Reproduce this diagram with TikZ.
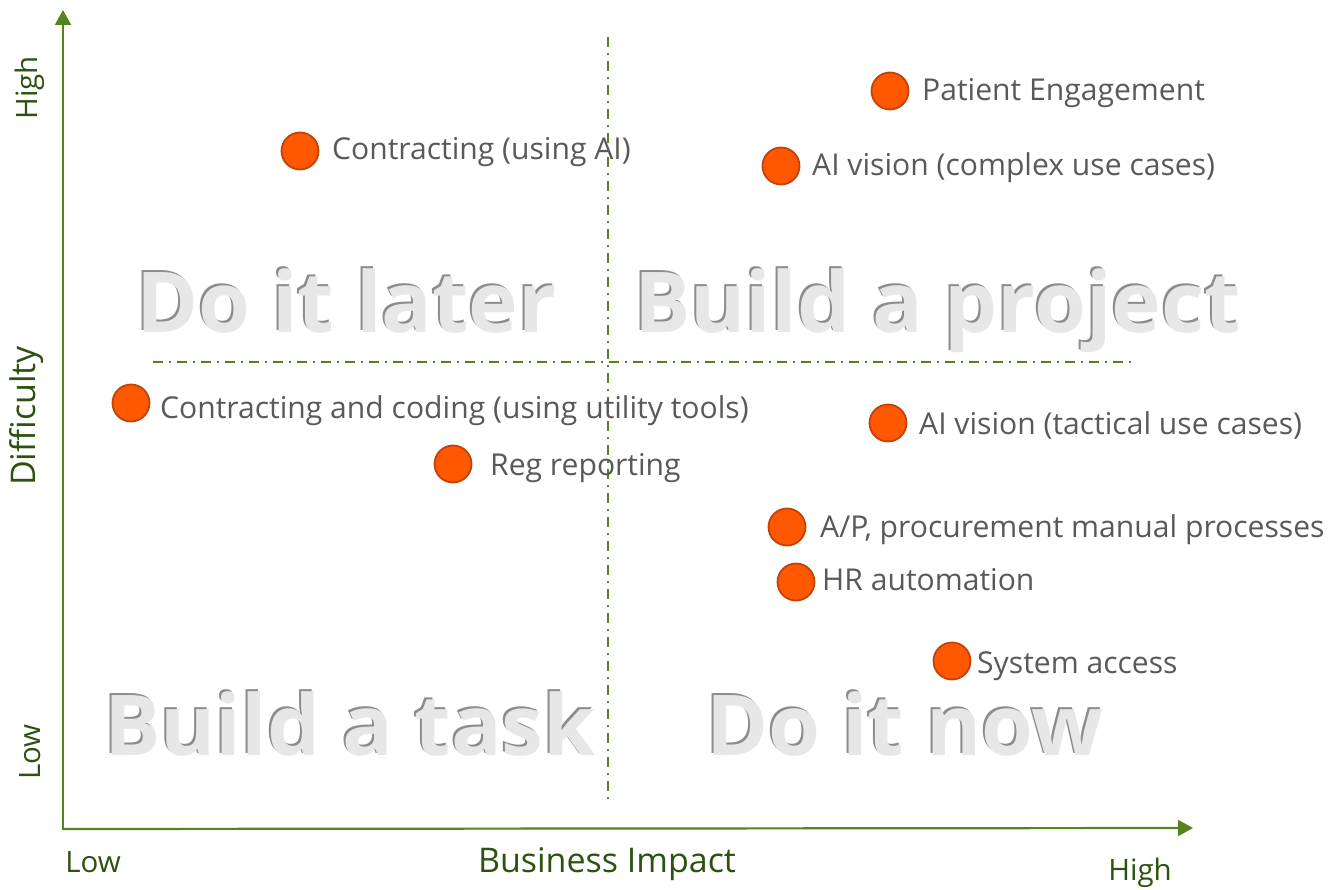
\documentclass[tikz,border=0pt]{standalone}
\usepackage{fontspec}
\setmainfont{Open Sans}
\usetikzlibrary{arrows.meta}
\definecolor{axisgreen}{RGB}{84,132,30}
\definecolor{axistext}{RGB}{45,82,16}
\definecolor{labelgray}{RGB}{89,89,89}
\definecolor{dotfill}{RGB}{255,88,0}
\definecolor{dotedge}{RGB}{196,66,10}
\definecolor{quadfill}{RGB}{231,231,231}
\definecolor{quadshade}{RGB}{140,140,140}
\begin{document}
\begin{tikzpicture}[x=1pt,y=-1pt,
  axisline/.style={draw=axisgreen, line width=2.2pt, -{Triangle[length=15pt,width=16pt]}},
  divider/.style={draw=axisgreen, line width=2pt, dash pattern=on 10pt off 6pt on 2pt off 6pt},
  axislabel/.style={text=axistext, inner sep=0pt, font=\fontsize{34}{40}\selectfont},
  endlabel/.style={text=axistext, inner sep=0pt, font=\fontsize{29.5}{35}\selectfont},
  dot/.style={circle, draw=dotedge, fill=dotfill, line width=1.8pt, minimum size=37pt, inner sep=0pt},
  lbl/.style={anchor=base west, inner sep=0pt, text=labelgray, font=\fontsize{30.1}{36}\selectfont},
  quadtext/.style={anchor=base west, inner sep=0pt, text=quadfill, font=\bfseries\fontsize{84}{100}\selectfont},
  quadshadow/.style={quadtext, text=quadshade}]
\useasboundingbox (0,0) rectangle (1333,890);

% quadrant dividers
\coordinate (vtop) at (608,37);
\coordinate (vbot) at (608,803);
\coordinate (hleft) at (153,362);
\coordinate (hright) at (1135,362);
\draw[divider] (vtop) -- (vbot);
\draw[divider] (hleft) -- (hright);

% quadrant titles: a dark copy offset up-left gives the embossed edge
\node[quadshadow] (qls) at (134,331) {Do it later};
\node[quadtext]   (ql)  at (136,333) {Do it later};
\node[quadshadow] (qps) at (632,331) {Build a project};
\node[quadtext]   (qp)  at (634,333) {Build a project};
\node[quadshadow] (qts) at (102,753) {Build a task};
\node[quadtext]   (qt)  at (104,755) {Build a task};
\node[quadshadow] (qns) at (704,753) {Do it now};
\node[quadtext]   (qn)  at (706,755) {Do it now};

% axes
\coordinate (origin) at (63,829);
\coordinate (ytip) at (63,10);
\coordinate (xtip) at (1193,828);
\draw[axisline] ([yshift=1pt]origin) -- (ytip);
\draw[axisline] ([xshift=-1pt]origin) -- (xtip);

% axis labels
\node[endlabel, rotate=90] (yhigh) at (30,88) {High};
\node[axislabel, rotate=90] (ytitle) at (27,416) {Difficulty};
\node[endlabel, rotate=90] (ylow) at (30,752) {Low};
\node[endlabel] (xlow) at (93,862) {Low};
\node[axislabel] (xtitle) at (607,864) {Business Impact};
\node[endlabel] (xhigh) at (1140,873) {High};

% initiatives
\node[dot] (d1) at (890,91) {};
\node[lbl] (l1) at (922,101) {Patient Engagement};
\node[dot] (d2) at (300,151) {};
\node[lbl] (l2) at (332,160) {Contracting (using AI)};
\node[dot] (d3) at (781,166) {};
\node[lbl] (l3) at (812,176) {AI vision (complex use cases)};
\node[dot] (d4) at (131,403) {};
\node[lbl] (l4) at (160,418) {Contracting and coding (using utility tools)};
\node[dot] (d5) at (453,464) {};
\node[lbl] (l5) at (490,475) {Reg reporting};
\node[dot] (d6) at (888,423) {};
\node[lbl] (l6) at (919,434) {AI vision (tactical use cases)};
\node[dot] (d7) at (787,527) {};
\node[lbl] (l7) at (820,537) {A/P, procurement manual processes};
\node[dot] (d8) at (796,582) {};
\node[lbl] (l8) at (822,590) {HR automation};
\node[dot] (d9) at (952,661) {};
\node[lbl] (l9) at (977,673) {System access};
\end{tikzpicture}
\end{document}
